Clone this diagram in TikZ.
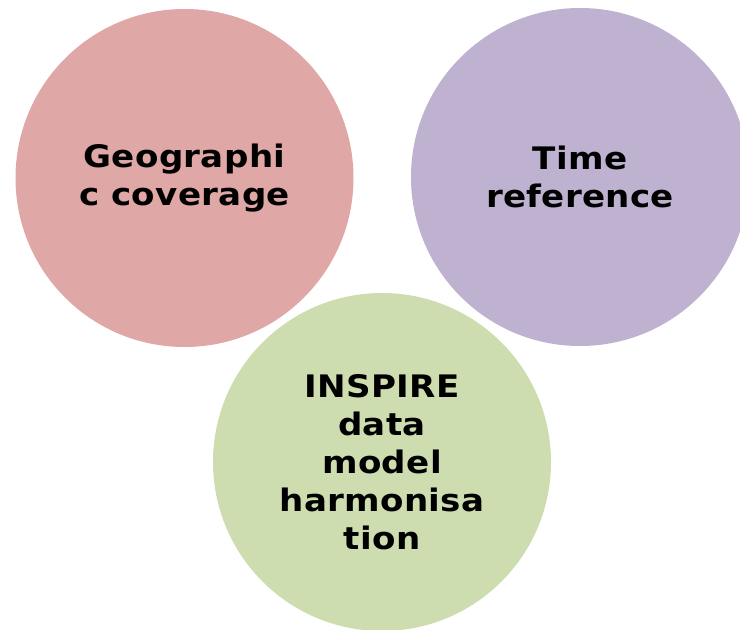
\documentclass[tikz,border=0pt]{standalone}
\usepackage{fontspec}
\setmainfont{DejaVu Sans}[FakeStretch=1.1,LetterSpace=1]
\definecolor{pinkc}{RGB}{223,167,166}
\definecolor{purplec}{RGB}{191,177,208}
\definecolor{greenc}{RGB}{206,221,175}
\begin{document}
\begin{tikzpicture}[x=1pt,y=-1pt,
  bubble/.style={circle,minimum size=338pt,inner sep=0pt,draw=none,align=center,
    font=\fontsize{31}{38}\selectfont\bfseries,text=black}]
\useasboundingbox (0,0) rectangle (740,630);
\node[bubble,fill=pinkc] (geo) at (184.5,178) {Geographi\\c coverage};
\node[bubble,fill=purplec] (time) at (580,177) {Time\\reference};
\node[bubble,fill=greenc] (insp) at (382,462) {INSPIRE\\data\\model\\harmonisa\\tion};
\end{tikzpicture}
\end{document}
